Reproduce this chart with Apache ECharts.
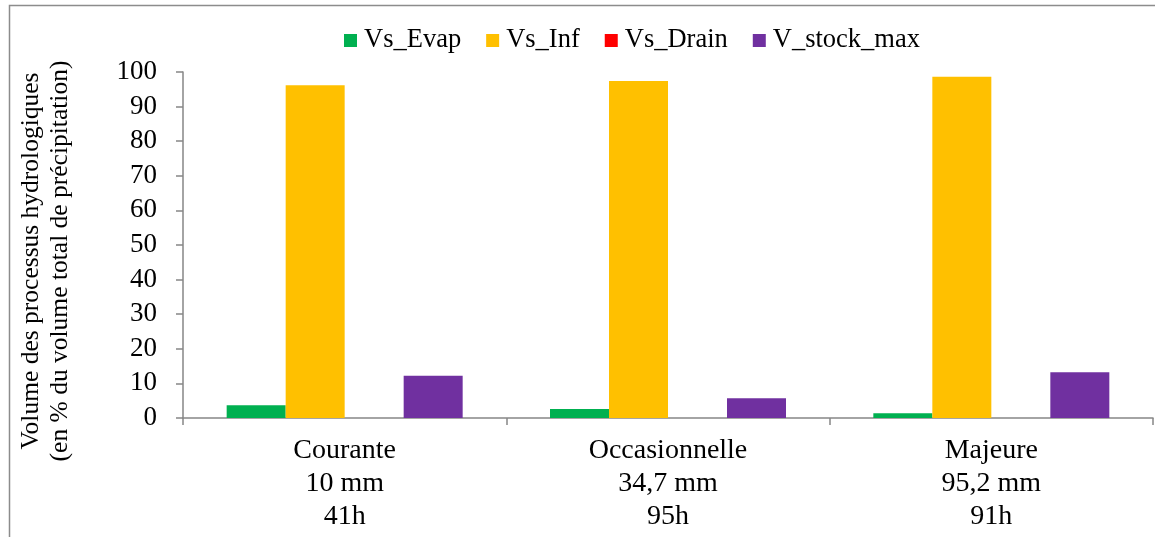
<!DOCTYPE html>
<html>
<head>
<meta charset="utf-8">
<script src="https://cdn.jsdelivr.net/npm/echarts@6/dist/echarts.min.js"></script>
<style>
html,body{margin:0;padding:0;background:#fff;}
#chart{width:1155px;height:537px;}
</style>
</head>
<body>
<div id="chart"></div>
<script>
var categories = ["Courante\n10 mm\n41h", "Occasionnelle\n34,7 mm\n95h", "Majeure\n95,2 mm\n91h"];
var vsEvap = [3.7, 2.6, 1.4];
var vsInf = [96.2, 97.4, 98.6];
var vsDrain = [0, 0, 0];
var vStockMax = [12.2, 5.7, 13.2];
var seriesNames = ["Vs_Evap", "Vs_Inf", "Vs_Drain", "V_stock_max"];
var seriesColors = ["#00B050", "#FFC000", "#FF0000", "#7030A0"];
var yAxisTitleLines = ["Volume des processus hydrologiques", "(en % du volume total de précipitation)"];

var FONT = "Liberation Serif";
var chart = echarts.init(document.getElementById('chart'), null, {renderer: 'canvas'});
var dataSets = [vsEvap, vsInf, vsDrain, vStockMax];
var series = seriesNames.map(function (n, i) {
  return {
    name: n,
    type: 'bar',
    data: dataSets[i],
    barWidth: 59,
    barGap: '0%',
    itemStyle: {color: seriesColors[i]}
  };
});
var titleX = [31, 60];
var titleGraphics = yAxisTitleLines.map(function (t, i) {
  return {
    type: 'text',
    x: titleX[i],
    y: 261,
    rotation: Math.PI / 2,
    silent: true,
    style: {
      text: t,
      fontFamily: FONT,
      fontSize: 25.5,
      fill: '#000',
      align: 'center',
      verticalAlign: 'middle'
    }
  };
});
chart.setOption({
  animation: false,
  backgroundColor: '#ffffff',
  graphic: [{
    type: 'rect',
    shape: {x: 9.5, y: 5.5, width: 1200, height: 600},
    style: {fill: 'none', stroke: '#8c8c8c', lineWidth: 1.5},
    silent: true,
    z: -1
  }].concat(titleGraphics),
  legend: {
    top: 22,
    left: 339,
    itemWidth: 13,
    itemHeight: 13,
    itemGap: 25,
    icon: 'rect',
    textStyle: {fontFamily: FONT, fontSize: 26.5, color: '#000', padding: [0, 0, 0, 2]},
    data: seriesNames
  },
  grid: {left: 183, right: 2, top: 72, bottom: 119, containLabel: false},
  xAxis: {
    type: 'category',
    data: categories,
    axisLine: {lineStyle: {color: '#868686', width: 1.5}},
    axisTick: {show: true, length: 7, lineStyle: {color: '#868686', width: 1.5}},
    axisLabel: {fontFamily: FONT, fontSize: 28, color: '#000', lineHeight: 33, margin: 16, interval: 0}
  },
  yAxis: {
    type: 'value',
    min: 0,
    max: 100,
    interval: 10,
    axisLine: {show: true, lineStyle: {color: '#868686', width: 1.5}},
    axisTick: {show: true, length: 7, lineStyle: {color: '#868686', width: 1.5}},
    splitLine: {show: false},
    axisLabel: {fontFamily: FONT, fontSize: 27, color: '#000', margin: 26}
  },
  series: series
});
</script>
</body>
</html>
